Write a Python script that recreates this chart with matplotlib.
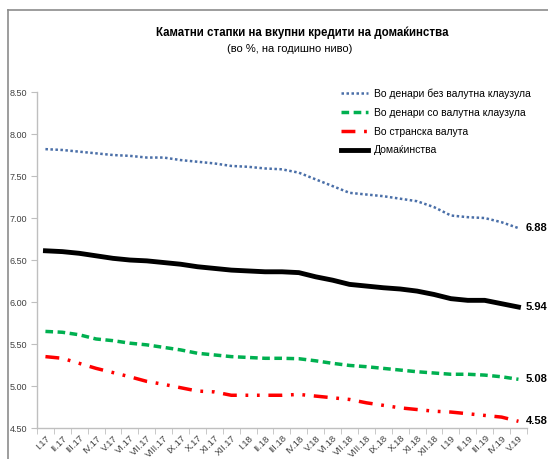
import matplotlib.pyplot as plt
from matplotlib.lines import Line2D

# Monthly labels, I.17 .. V.19
months = ['I', 'II', 'III', 'IV', 'V', 'VI', 'VII', 'VIII', 'IX', 'X', 'XI', 'XII']
labels = [m + '.17' for m in months] + [m + '.18' for m in months] + [m + '.19' for m in months[:5]]

den_bez = [7.82, 7.81, 7.79, 7.77, 7.75, 7.74, 7.72, 7.72, 7.69, 7.67, 7.65, 7.62, 7.61, 7.59,
           7.58, 7.54, 7.46, 7.38, 7.30, 7.28, 7.26, 7.23, 7.20, 7.13, 7.03, 7.01, 7.00, 6.95, 6.88]
den_so = [5.65, 5.64, 5.61, 5.56, 5.54, 5.51, 5.49, 5.46, 5.43, 5.39, 5.37, 5.35, 5.34, 5.33,
          5.33, 5.325, 5.30, 5.27, 5.245, 5.23, 5.21, 5.19, 5.17, 5.155, 5.14, 5.14, 5.13, 5.11, 5.08]
stranska = [5.35, 5.33, 5.27, 5.21, 5.16, 5.11, 5.055, 5.02, 4.98, 4.94, 4.93, 4.89, 4.89, 4.89,
            4.89, 4.90, 4.88, 4.86, 4.84, 4.80, 4.77, 4.74, 4.72, 4.70, 4.69, 4.67, 4.65, 4.63, 4.58]
domak = [6.61, 6.60, 6.58, 6.55, 6.52, 6.50, 6.49, 6.47, 6.45, 6.42, 6.40, 6.38, 6.37, 6.36,
         6.36, 6.35, 6.30, 6.26, 6.21, 6.19, 6.17, 6.155, 6.13, 6.09, 6.04, 6.02, 6.02, 5.98, 5.94]

names = ['Во денари без валутна клаузула', 'Во денари со валутна клаузула',
         'Во странска валута', 'Домаќинства']

plt.rcParams['font.family'] = ['Liberation Sans', 'DejaVu Sans']

fig = plt.figure(figsize=(5.48, 4.59), dpi=100)
ax = fig.add_axes([0.0675, 0.0675, 0.894, 0.732])

x = list(range(len(labels)))
ax.plot(x, den_bez, color='#4a6fa8', lw=1.8, linestyle=(0, (1, 1)), label=names[0])
ax.plot(x, den_so, color='#00b050', lw=2.5, linestyle=(0, (2.2, 1.3)), label=names[1])
ax.plot(x, stranska, color='#ff0000', lw=2.5, linestyle=(0, (4, 2.5, 0.8, 2.5, 0.8, 2.5)), label=names[2])
ax.plot(x, domak, color='#000000', lw=3.5, label=names[3])

# end-of-line value labels
for vals in [den_bez, den_so, stranska, domak]:
    ax.annotate(f'{vals[-1]:.2f}', xy=(x[-1], vals[-1]), xytext=(5.5, 0),
                textcoords='offset points', ha='left', va='center',
                fontsize=8, fontweight='bold', annotation_clip=False)

ax.set_xlim(-0.5, len(labels) - 0.5)
ax.set_ylim(4.5, 8.5)
yt = [4.5 + 0.5 * i for i in range(9)]
ax.set_yticks(yt)
ax.set_yticklabels([f'{v:.2f}' for v in yt], fontsize=6.5, color='#404040')
ax.set_xticks(x)
ax.set_xticklabels(labels, rotation=45, ha='right', rotation_mode='anchor', fontsize=6.8, color='#404040')
ax.set_xticks([i - 0.5 for i in range(len(labels) + 1)], minor=True)
ax.tick_params(axis='x', which='major', length=0, pad=4)
ax.tick_params(axis='x', which='minor', length=4, color='#bfbfbf')
ax.tick_params(axis='y', length=4, color='#bfbfbf', pad=3)

for s in ['top', 'right']:
    ax.spines[s].set_visible(False)
for s in ['left', 'bottom']:
    ax.spines[s].set_color('#bfbfbf')
    ax.spines[s].set_linewidth(1)

ax.legend(loc='upper left', bbox_to_anchor=(332 / 548, 1 - 79 / 459),
          bbox_transform=fig.transFigure, frameon=False, fontsize=7.5,
          handlelength=2.6, labelspacing=0.85, handletextpad=0.5)

fig.text(302 / 548, 1 - 33 / 459, 'Каматни стапки на вкупни кредити на домаќинства',
         ha='center', va='center', fontsize=8.3, fontweight='bold')
fig.text(290 / 548, 1 - 49 / 459, '(во %, на годишно ниво)',
         ha='center', va='center', fontsize=8)

# outer frame of the original (only top and left visible)
fig.add_artist(Line2D([8 / 548, 1], [1 - 10 / 459, 1 - 10 / 459], transform=fig.transFigure,
                      color='#8c8c8c', lw=1.2))
fig.add_artist(Line2D([8 / 548, 8 / 548], [0, 1 - 10 / 459], transform=fig.transFigure,
                      color='#8c8c8c', lw=1.2))

fig.savefig('out.png', dpi=100)
